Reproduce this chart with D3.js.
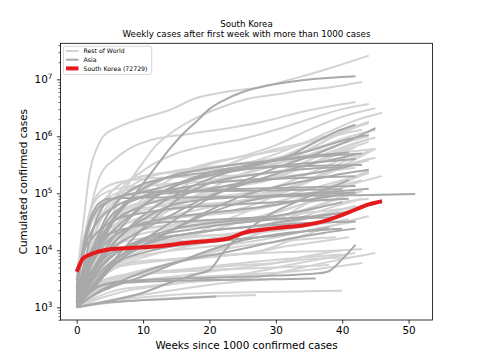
<!DOCTYPE html>
<html>
<head>
<meta charset="utf-8">
<script src="https://cdn.jsdelivr.net/npm/d3@7"></script>
<style>
  body { margin: 0; background: #fff; }
  text { font-family: "DejaVu Sans", sans-serif; fill: #000; }
</style>
</head>
<body>
<svg id="chart" width="480" height="360"></svg>
<script>
// ---- data: [week, cumulated cases] ----
var restOfWorld = [
  [[0,3500],[1,30000],[2,250000],[3,600000],[4,1e6],[6,1.4e6],[10,2.1e6],[14,2.9e6],[18,4.7e6],[22,5.9e6],[28,7.4e6],[33,1.05e7],[38,1.55e7],[44,2.6e7]],
  [[0,1500],[2,6000],[4,20000],[6,60000],[8,160000],[10,350000],[12,700000],[14,1.1e6],[18,2.1e6],[22,3.3e6],[26,4.6e6],[30,5.4e6],[34,6.4e6],[38,7.2e6],[43,9e6]],
  [[0,1800],[1,9000],[2,45000],[3.5,200000],[6,420000],[11,850000],[17,1.1e6],[23,1.4e6],[28,1.8e6],[34,2.7e6],[42,4e6]],
  [[0,1500],[2,6000],[4,30000],[6,90000],[10,250000],[15,500000],[20,700000],[25,900000],[30,1.3e6],[35,2e6],[40,3e6],[44,3.7e6]],
  [[0,1100],[3,5000],[6,25000],[10,80000],[15,200000],[20,320000],[25,450000],[30,700000],[35,1.3e6],[40,2.2e6],[45,3.1e6]],
  [[0,2000],[2,10000],[4,45000],[8,130000],[14,240000],[20,290000],[26,350000],[32,600000],[38,1.2e6],[42,1.9e6],[46,2.6e6]],
  [[0,1300],[2,4000],[5,20000],[10,70000],[15,140000],[20,200000],[25,260000],[30,340000],[35,480000],[40,750000],[44,1e6]],
  [[0,1000],[1,3000],[2,12000],[3,40000],[5,100000],[8,170000],[12,220000],[18,250000],[24,280000],[30,400000],[36,800000],[42,1.5e6]],
  [[0,1500],[2,9000],[4,60000],[6,130000],[10,200000],[16,240000],[22,260000],[28,300000],[34,500000],[40,1.2e6],[44,1.8e6]],
  [[0,1100],[3,4000],[6,12000],[10,40000],[15,110000],[20,230000],[25,400000],[30,600000],[35,800000],[40,1.1e6],[43,1.3e6]],
  [[0,1200],[2,3000],[5,9000],[10,25000],[15,60000],[20,120000],[25,220000],[30,330000],[35,420000],[40,520000],[45,600000]],
  [[0,2500],[1,12000],[2,50000],[3,90000],[5,140000],[8,170000],[14,190000],[20,200000],[26,210000],[32,260000],[38,420000],[42,650000]],
  [[0,1000],[2,2500],[4,7000],[8,20000],[12,45000],[18,90000],[24,150000],[30,190000],[36,230000],[42,280000]],
  [[0,1300],[2,5000],[4,15000],[6,25000],[10,35000],[15,40000],[20,45000],[25,55000],[30,90000],[35,160000],[40,280000],[44,380000]],
  [[0,1100],[3,3000],[6,6000],[10,10000],[15,15000],[20,25000],[25,45000],[30,70000],[35,100000],[40,140000],[43,170000]],
  [[0,1000],[4,2000],[8,3500],[12,5000],[18,8000],[24,14000],[30,25000],[36,40000],[42,60000]],
  [[0,1400],[2,4000],[5,9000],[10,13000],[15,16000],[20,18000],[25,21000],[30,30000],[35,50000],[40,85000],[43,110000]],
  [[0,1000],[3,1800],[6,2500],[10,3000],[15,3500],[20,4200],[25,5000],[30,6000],[35,8000],[40,10000]],
  [[0,1000],[5,1300],[10,1500],[16,1700],[22,1800],[28,1850],[34,1900],[40,1950]],
  [[0,1200],[2,2800],[4,4500],[8,6000],[14,7000],[20,8000],[26,9000],[32,12000],[38,15000],[41,17000]],
  [[0,1000],[3,1500],[6,2000],[10,2300],[16,2700],[22,3000],[28,3500],[34,5000],[40,7000],[45,9000]],
  [[0,1800],[2,6000],[4,12000],[8,20000],[12,25000],[18,28000],[24,32000],[30,45000],[36,80000],[42,150000],[46,200000]],
  [[0,1000],[2,2000],[4,3000],[6,3500],[10,4000],[15,4500],[20,5000],[25,5500],[30,6000],[35,7000],[41,7500]],
  [[0,3000],[1,10000],[2,30000],[4,70000],[6,100000],[10,130000],[15,150000],[20,160000],[25,170000],[30,200000],[35,320000],[40,600000],[44,900000]],
  [[0,1100],[2,3500],[5,12000],[10,35000],[15,55000],[20,65000],[25,75000],[30,100000],[35,170000],[40,300000],[45,420000]],
  [[0,1000],[4,1500],[8,2000],[14,2500],[20,3200],[26,4000],[32,5500],[38,7500],[42,9000]],
  [[0,1500],[2,5000],[4,10000],[8,15000],[12,17000],[18,18000],[24,19000],[30,22000],[36,28000],[41,35000]],
  [[0,1000],[1,2000],[3,5000],[6,9000],[10,12000],[16,14000],[22,16000],[28,25000],[34,60000],[40,150000],[44,230000]],
  [[0,1200],[3,2500],[6,3500],[10,4000],[20,4500],[30,5000],[38,5500]],
  [[0,4000],[1,15000],[2,45000],[3,80000],[5,110000],[8,130000],[12,140000],[16,150000],[20,170000],[26,230000],[32,400000],[38,900000],[43,1.6e6]],
  [[0,1000],[2,1800],[5,3000],[10,4500],[15,6000],[20,9000],[25,15000],[30,30000],[35,50000],[40,70000],[44,80000]],
  [[0,1000],[2,4000],[4,10000],[8,20000],[14,28000],[20,32000],[26,36000],[32,42000],[38,50000],[43,58000]],
  [[0,1200],[2,6000],[4,25000],[7,50000],[12,70000],[18,80000],[24,90000],[30,110000],[36,180000],[42,400000],[45,600000]],
  [[0,1000],[1,2500],[3,8000],[6,22000],[10,40000],[16,55000],[22,65000],[28,85000],[34,150000],[40,350000],[44,550000]],
  [[0,1500],[2,5000],[4,9000],[8,12000],[14,14000],[20,16000],[26,20000],[32,30000],[38,45000],[42,60000]],
  [[0,1000],[2,1500],[5,2500],[10,4000],[15,6000],[20,9000],[25,12000],[30,14000],[35,16000],[39,17000]],
  [[0,1300],[3,3500],[6,5000],[10,6000],[16,7000],[22,8000],[28,10000],[34,18000],[40,30000],[44,40000]],
  [[0,1000],[5,1200],[12,1400],[20,1550],[27,1650]],
  [[0,1000],[6,1400],[12,1800],[18,2300],[24,2800],[30,3200]],
  [[0,1100],[4,2000],[8,3500],[12,5000],[16,6500],[22,8000],[28,9000],[34,9500],[40,10000],[43,10500]],
  [[0,1000],[2,3000],[4,8000],[7,15000],[12,22000],[18,26000],[24,30000],[30,38000],[36,60000],[42,110000]],
  [[0,1200],[1,4000],[3,15000],[5,35000],[8,60000],[12,75000],[18,85000],[24,95000],[30,130000],[36,250000],[41,450000]],
  [[0,2200],[1,8000],[2,25000],[4,60000],[7,90000],[11,110000],[16,120000],[22,130000],[28,160000],[34,280000],[40,550000],[44,800000]],
  [[0,1000],[2,2200],[4,4000],[8,7000],[12,9000],[18,11000],[24,13000],[30,17000],[36,24000],[42,32000]],
  [[0,1400],[2,7000],[4,22000],[6,40000],[10,55000],[16,62000],[22,68000],[28,80000],[34,110000],[40,170000],[44,230000]],
  [[0,1100],[3,2800],[6,5000],[10,7500],[14,10000],[20,14000],[26,20000],[32,32000],[38,55000],[43,80000]],
  [[0,1600],[2,5000],[5,14000],[9,25000],[14,35000],[20,42000],[26,50000],[32,70000],[38,130000],[44,250000]],
  [[0,1000],[2,2500],[5,6000],[9,10000],[14,15000],[20,22000],[26,35000],[32,55000],[38,85000],[42,110000]],
  [[0,1300],[2,6000],[4,18000],[7,35000],[11,55000],[17,80000],[23,120000],[29,200000],[35,380000],[41,700000],[45,950000]],
  [[0,2000],[2,12000],[4,40000],[7,90000],[11,150000],[16,220000],[22,300000],[28,380000],[34,520000],[40,900000],[45,1.3e6]],
  [[0,1000],[3,2000],[6,3000],[10,3800],[16,4500],[22,5500],[28,6500],[34,7500],[40,8500]],
  [[0,1200],[2,2000],[5,3000],[10,3800],[15,4200],[20,4500],[25,4800]],
  [[0,1000],[2,3500],[4,9000],[7,18000],[11,30000],[16,45000],[21,60000],[27,85000],[33,140000],[39,260000],[44,400000]],
  [[0,1500],[3,10000],[6,40000],[10,110000],[15,220000],[20,340000],[26,460000],[32,620000],[38,1.05e6],[44,1.7e6]],
  [[0,1000],[2,1600],[4,2200],[8,2800],[14,3200],[20,3500],[26,3800],[32,4200],[38,5000],[43,6000]]
];

var asia = [
  [[0,1200],[1,2500],[2,5000],[3,9000],[4,15000],[5,25000],[6,40000],[8,75000],[10,150000],[12,300000],[14,600000],[16,1.1e6],[18,1.8e6],[20,3e6],[22,4.2e6],[25,6e6],[28,7.5e6],[32,9e6],[36,1.02e7],[40,1.1e7],[42,1.13e7]],
  [[0,2000],[1,12000],[2,35000],[3,60000],[4,75000],[5,80000],[10,84000],[20,85000],[30,88000],[40,92000],[46,94000],[51,97000]],
  [[0,1100],[3,2200],[6,2800],[10,3000],[20,3300],[30,3600],[36,3900],[38,4300],[40,7000],[42,12500]],
  [[0,1000],[5,1300],[10,1800],[14,2700],[18,3800],[20,4500],[22,9000],[24,16000],[26,24000],[29,42000],[33,70000],[37,110000],[41,170000]],
  [[0,1500],[2,8000],[4,30000],[6,70000],[9,130000],[13,180000],[18,220000],[24,260000],[30,300000],[36,350000],[42,400000]],
  [[0,2500],[1,10000],[2,30000],[3,50000],[5,75000],[8,95000],[12,120000],[16,160000],[20,210000],[24,260000],[28,330000],[32,450000],[36,800000],[39,1.2e6],[42,1.6e6]],
  [[0,1100],[3,3000],[6,7000],[10,15000],[14,30000],[18,60000],[22,110000],[26,180000],[30,280000],[34,400000],[38,600000],[42,950000],[45,1.4e6]],
  [[0,1200],[2,5000],[4,18000],[6,45000],[9,100000],[13,180000],[18,250000],[24,320000],[30,380000],[36,440000],[43,500000]],
  [[0,1000],[2,3000],[4,8000],[7,20000],[11,50000],[16,110000],[21,200000],[26,300000],[31,420000],[36,600000],[41,900000],[44,1.05e6]],
  [[0,1800],[2,7000],[4,20000],[6,35000],[10,60000],[15,90000],[20,120000],[25,150000],[30,180000],[35,220000],[40,280000],[42,320000]],
  [[0,1300],[3,6000],[6,20000],[10,60000],[14,120000],[18,180000],[22,230000],[26,270000],[30,290000],[35,300000],[40,310000],[43,315000]],
  [[0,1000],[2,2000],[5,5000],[10,12000],[15,25000],[20,50000],[25,90000],[30,130000],[35,170000],[40,220000],[44,260000]],
  [[0,1100],[2,3000],[4,6000],[8,12000],[12,18000],[18,24000],[24,30000],[30,35000],[36,40000],[40,45000]],
  [[0,2000],[2,9000],[4,17000],[8,25000],[12,30000],[18,33000],[24,36000],[30,40000],[36,55000],[40,70000]],
  [[0,1000],[3,2500],[6,6000],[10,9000],[15,12000],[20,14000],[25,16000],[30,18000],[35,22000],[38,25000]],
  [[0,1000],[2,2000],[5,2600],[10,2800],[20,3000],[30,3100],[36,3200]],
  [[0,1000],[4,1200],[8,1300],[14,1400],[21,1550]],
  [[0,1500],[1,5000],[2,15000],[3,35000],[4,60000],[6,85000],[9,100000],[14,110000],[20,115000],[26,120000],[32,125000],[38,130000],[42,135000]],
  [[0,1200],[2,6000],[4,25000],[7,60000],[11,90000],[16,105000],[22,110000],[28,112000],[34,115000],[40,118000]],
  [[0,1000],[2,2000],[4,4000],[8,9000],[12,16000],[16,28000],[20,45000],[25,70000],[30,90000],[35,100000],[40,110000],[44,120000]],
  [[0,1400],[2,4000],[5,10000],[9,20000],[14,40000],[19,80000],[24,130000],[29,200000],[34,300000],[39,400000],[42,480000]],
  [[0,1000],[3,1800],[7,3000],[12,5000],[17,7000],[22,9000],[27,12000],[32,16000],[37,20000],[42,24000]],
  [[0,3000],[1,9000],[3,20000],[6,35000],[10,45000],[15,55000],[20,60000],[25,65000],[30,70000],[36,75000],[41,80000]],
  [[0,1100],[4,4000],[8,14000],[12,40000],[16,90000],[20,150000],[25,200000],[30,240000],[35,270000],[40,290000]],
  [[0,1300],[2,5000],[4,12000],[7,22000],[11,32000],[16,40000],[22,48000],[28,58000],[34,75000],[40,95000]],
  [[0,1000],[2,2500],[5,6000],[9,11000],[14,17000],[20,22000],[26,26000],[32,29000],[38,31000],[42,32000]],
  [[0,2200],[1,9000],[3,30000],[6,60000],[10,90000],[15,120000],[20,150000],[25,170000],[30,180000],[36,190000],[42,200000]],
  [[0,1100],[3,4000],[6,9000],[10,16000],[15,24000],[20,30000],[25,34000],[30,36000],[35,37000],[39,38000]],
  [[0,1000],[2,1500],[5,2200],[10,3500],[15,6000],[20,10000],[25,15000],[30,19000],[35,22000],[40,24000]],
  [[0,1600],[2,6000],[4,14000],[8,40000],[12,90000],[16,160000],[20,230000],[25,300000],[30,380000],[35,450000],[41,520000]],
  [[0,1000],[3,5000],[6,15000],[10,35000],[14,60000],[18,75000],[24,85000],[30,92000],[36,98000],[42,102000]],
  [[0,1200],[2,3500],[4,7000],[8,12000],[12,16000],[16,19000],[20,22000],[26,26000],[32,33000],[38,42000],[42,50000]]
];

var koreaWeeks = [0,1,2,3,4,5,6,8,10,12,14,16,18,20,22,23,24,25,26,27,28,30,32,34,36,38,40,42,44,46];
var koreaCases = [4200,7300,8400,9300,9900,10400,10700,11000,11300,11700,12400,13300,14000,14600,15500,16300,18000,20000,21400,22200,23000,24500,25800,27200,30000,34600,41700,52000,64000,72729];

var legendLabels = ["Rest of World", "Asia", "South Korea (72729)"];
var xTicks = [0, 10, 20, 30, 40, 50];
var yPowers = [3, 4, 5, 6, 7];

// ---- layout ----
var svg = d3.select("#chart");
var plot = {left: 60.5, right: 432.5, top: 43.3, bottom: 320};
var colRest = "#d3d3d3", colAsia = "#a9a9a9", colKorea = "#e41a1c";

var x = d3.scaleLinear().domain([-2.44, 53.6]).range([plot.left, plot.right]);
var y = d3.scaleLog().domain([Math.pow(10, 2.777), Math.pow(10, 7.632)]).range([plot.bottom, plot.top]);

var line = d3.line()
    .x(function(d) { return x(d[0]); })
    .y(function(d) { return y(d[1]); })
    .curve(d3.curveMonotoneX);

svg.append("defs").append("clipPath").attr("id", "clip")
  .append("rect")
    .attr("x", plot.left).attr("y", plot.top)
    .attr("width", plot.right - plot.left).attr("height", plot.bottom - plot.top);

var lines = svg.append("g").attr("clip-path", "url(#clip)");

// rest of world first, asia on top, korea last
lines.selectAll("path.rest")
  .data(restOfWorld)
  .enter().append("path")
    .attr("class", "rest")
    .attr("d", line)
    .attr("fill", "none")
    .attr("stroke", colRest)
    .attr("stroke-width", 2)
    .attr("stroke-linejoin", "round");

lines.selectAll("path.asia")
  .data(asia)
  .enter().append("path")
    .attr("class", "asia")
    .attr("d", line)
    .attr("fill", "none")
    .attr("stroke", colAsia)
    .attr("stroke-width", 2)
    .attr("stroke-linejoin", "round");

var korea = koreaWeeks.map(function(w, i) { return [w, koreaCases[i]]; });
lines.append("path")
  .datum(korea)
  .attr("d", line)
  .attr("fill", "none")
  .attr("stroke", colKorea)
  .attr("stroke-width", 4)
  .attr("stroke-linejoin", "round");

// ---- axes (matplotlib look) ----
var xAxis = svg.append("g")
  .attr("transform", "translate(0," + plot.bottom + ")")
  .call(d3.axisBottom(x).tickValues(xTicks).tickSize(3.6).tickPadding(3.5).tickFormat(d3.format("d")));
xAxis.select(".domain").remove();
xAxis.selectAll("text").attr("font-size", 10.4).attr("font-family", "DejaVu Sans");
xAxis.selectAll("line").attr("stroke", "#000").attr("stroke-width", 0.8);

var yMinor = y.ticks().filter(function(t) {
  var m = Math.round(t / Math.pow(10, Math.floor(Math.log10(t) + 1e-9)));
  return m !== 1;
});
var yAxisMinor = svg.append("g")
  .attr("transform", "translate(" + plot.left + ",0)")
  .call(d3.axisLeft(y).tickValues(yMinor).tickSize(2).tickFormat(""));
yAxisMinor.select(".domain").remove();
yAxisMinor.selectAll("line").attr("stroke", "#000").attr("stroke-width", 0.6);

var yAxis = svg.append("g")
  .attr("transform", "translate(" + plot.left + ",0)")
  .call(d3.axisLeft(y).tickValues(yPowers.map(function(p) { return Math.pow(10, p); })).tickSize(3.6).tickFormat(""));
yAxis.select(".domain").remove();
yAxis.selectAll("line").attr("stroke", "#000").attr("stroke-width", 0.8);

yAxis.selectAll(".tick").each(function(d) {
  var t = d3.select(this).append("text")
    .attr("x", -8)
    .attr("dy", "0.32em")
    .attr("text-anchor", "end")
    .attr("font-size", 10.4)
    .attr("fill", "#000");
  t.append("tspan").text("10");
  t.append("tspan").attr("font-size", 7.3).attr("dy", "-0.55em").text(Math.round(Math.log10(d)));
});

// frame
svg.append("rect")
  .attr("x", plot.left).attr("y", plot.top)
  .attr("width", plot.right - plot.left).attr("height", plot.bottom - plot.top)
  .attr("fill", "none").attr("stroke", "#000").attr("stroke-width", 0.8);

// ---- labels ----
var cx = (plot.left + plot.right) / 2;
svg.append("text").attr("x", cx).attr("y", 27).attr("text-anchor", "middle")
  .attr("font-size", 8.68).text("South Korea");
svg.append("text").attr("x", cx).attr("y", 37.4).attr("text-anchor", "middle")
  .attr("font-size", 8.68).text("Weekly cases after first week with more than 1000 cases");

svg.append("text").attr("x", cx).attr("y", 349).attr("text-anchor", "middle")
  .attr("font-size", 10.4).text("Weeks since 1000 confirmed cases");

svg.append("text")
  .attr("transform", "translate(26.5," + ((plot.top + plot.bottom) / 2) + ") rotate(-90)")
  .attr("text-anchor", "middle")
  .attr("font-size", 10.4).text("Cumulated confirmed cases");

// ---- legend ----
var legend = svg.append("g");
legend.append("rect")
  .attr("x", 63.5).attr("y", 46.2).attr("width", 88.2).attr("height", 28.2)
  .attr("rx", 2).attr("fill", "#fff").attr("fill-opacity", 0.8)
  .attr("stroke", "#cccccc").attr("stroke-width", 0.8);

var legendColors = [colRest, colAsia, colKorea];
var legendWidths = [2, 2, 4];
legendLabels.forEach(function(lab, i) {
  var cy = 51 + i * 8.7;
  legend.append("line")
    .attr("x1", 66).attr("x2", 78.5).attr("y1", cy).attr("y2", cy)
    .attr("stroke", legendColors[i]).attr("stroke-width", legendWidths[i]);
  legend.append("text")
    .attr("x", 83.5).attr("y", cy + 2.2)
    .attr("font-size", 6.2).text(lab);
});
</script>
</body>
</html>
